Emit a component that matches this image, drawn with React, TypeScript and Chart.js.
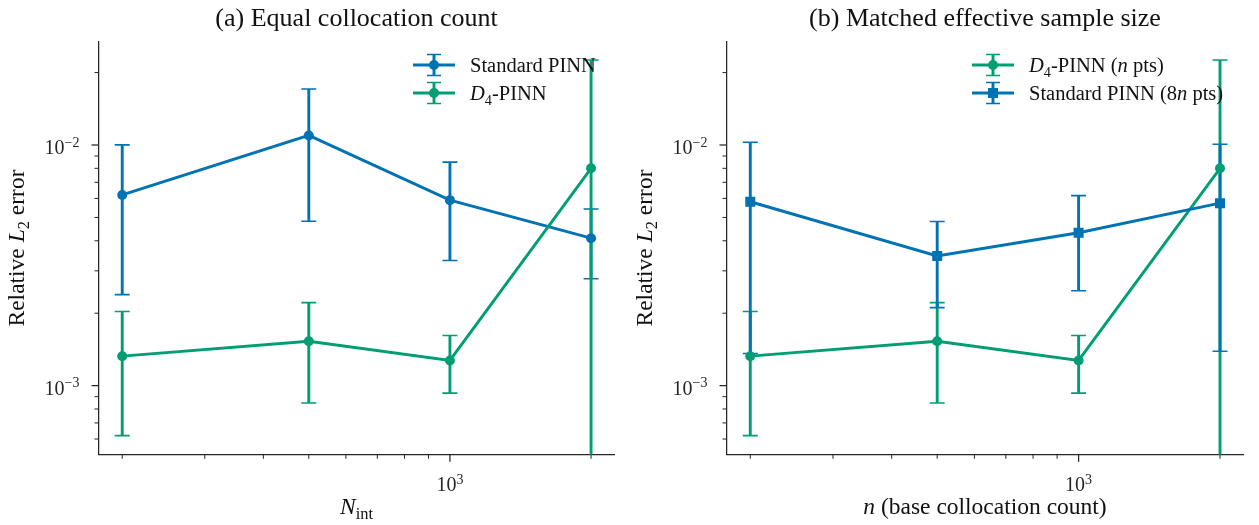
import React, { useEffect, useRef } from 'react';
import { Chart, registerables } from 'chart.js';

Chart.register(...registerables);

// ---------- data ----------
const nValues = [200, 500, 1000, 2000];

const standardMean = [0.0062, 0.01096, 0.0059, 0.0041];
const standardStd = [0.00381, 0.00614, 0.00259, 0.00132];

const d4Mean = [0.001326, 0.00153, 0.001273, 0.008];
const d4Std = [0.000706, 0.000683, 0.000342, 0.01455];

const standard8nMean = [0.00581, 0.00346, 0.00432, 0.00573];
const standard8nStd = [0.00445, 0.00135, 0.00184, 0.00434];

const xMajorTicks = [1000];
const xMinorTicks = [200, 300, 400, 500, 600, 700, 800, 900, 2000];
const yMajorTicks = [0.001, 0.01];
const yMinorTicks = [
  0.0006, 0.0007, 0.0008, 0.0009, 0.002, 0.003, 0.004, 0.005, 0.006, 0.007,
  0.008, 0.009, 0.02,
];
const xLimits = [178, 2244];
const yLimits = [0.000516, 0.027];

const BLUE = '#0173b2';
const GREEN = '#029e73';
const INK = '#262626';
const FONT = '"Liberation Serif", "Times New Roman", serif';

type Seg = { text: string; italic?: boolean; sub?: boolean; sup?: boolean };

const titleA: Seg[] = [{ text: '(a) Equal collocation count' }];
const titleB: Seg[] = [{ text: '(b) Matched effective sample size' }];
const xLabelA: Seg[] = [{ text: 'N', italic: true }, { text: 'int', sub: true }];
const xLabelB: Seg[] = [{ text: 'n', italic: true }, { text: ' (base collocation count)' }];
const yLabel: Seg[] = [
  { text: 'Relative ' },
  { text: 'L', italic: true },
  { text: '2', sub: true },
  { text: ' error' },
];
const legStandard: Seg[] = [{ text: 'Standard PINN' }];
const legD4: Seg[] = [{ text: 'D', italic: true }, { text: '4', sub: true }, { text: '-PINN' }];
const legD4n: Seg[] = [
  { text: 'D', italic: true },
  { text: '4', sub: true },
  { text: '-PINN (' },
  { text: 'n', italic: true },
  { text: ' pts)' },
];
const legStd8n: Seg[] = [
  { text: 'Standard PINN (8' },
  { text: 'n', italic: true },
  { text: ' pts)' },
];

// ---------- helpers ----------
function segFont(s: Seg, size: number) {
  const sz = s.sub || s.sup ? size * 0.7 : size;
  return `${s.italic ? 'italic ' : ''}${sz}px ${FONT}`;
}

function drawRich(
  ctx: CanvasRenderingContext2D,
  segs: Seg[],
  x: number,
  y: number,
  size: number,
  align: 'left' | 'center' | 'right'
) {
  ctx.textAlign = 'left';
  ctx.textBaseline = 'alphabetic';
  const widths = segs.map((s) => {
    ctx.font = segFont(s, size);
    return ctx.measureText(s.text).width;
  });
  const total = widths.reduce((a, b) => a + b, 0);
  let cx = align === 'left' ? x : align === 'center' ? x - total / 2 : x - total;
  segs.forEach((s, i) => {
    ctx.font = segFont(s, size);
    const dy = s.sub ? size * 0.22 : s.sup ? -size * 0.36 : 0;
    ctx.fillText(s.text, cx, y + dy);
    cx += widths[i];
  });
}

function expLabel(v: number): Seg[] {
  const e = Math.round(Math.log10(v));
  return [{ text: '10' }, { text: String(e).replace('-', '\u2212'), sup: true }];
}

type Series = {
  legend: Seg[];
  mean: number[];
  std: number[];
  color: string;
  marker: 'circle' | 'rect';
};

type PanelCfg = {
  left: number;
  width: number;
  chartLeft: number;
  chartRight: number;
  title: Seg[];
  xLabel: Seg[];
  series: Series[];
  legendX: number;
};

const CHART_TOP = 41.2;
const CHART_BOTTOM = 454.8;
const HEIGHT = 525;
const LINE_W = 2.9;

const panels: PanelCfg[] = [
  {
    left: 0,
    width: 630,
    chartLeft: 98.5,
    chartRight: 614.5,
    title: titleA,
    xLabel: xLabelA,
    legendX: 413,
    series: [
      { legend: legStandard, mean: standardMean, std: standardStd, color: BLUE, marker: 'circle' },
      { legend: legD4, mean: d4Mean, std: d4Std, color: GREEN, marker: 'circle' },
    ],
  },
  {
    left: 620,
    width: 639,
    chartLeft: 106.5,
    chartRight: 623.5,
    title: titleB,
    xLabel: xLabelB,
    legendX: 352,
    series: [
      { legend: legD4n, mean: d4Mean, std: d4Std, color: GREEN, marker: 'circle' },
      { legend: legStd8n, mean: standard8nMean, std: standard8nStd, color: BLUE, marker: 'rect' },
    ],
  },
];

function drawMarker(ctx: CanvasRenderingContext2D, marker: string, x: number, y: number, color: string) {
  ctx.fillStyle = color;
  if (marker === 'rect') {
    ctx.fillRect(x - 5, y - 5, 10, 10);
  } else {
    ctx.beginPath();
    ctx.arc(x, y, 5, 0, Math.PI * 2);
    ctx.fill();
  }
}

function Panel({ cfg }: { cfg: PanelCfg }) {
  const ref = useRef<HTMLCanvasElement>(null);

  useEffect(() => {
    const canvas = ref.current;
    if (!canvas) return;

    const errorBars = {
      id: 'errorBars',
      beforeDatasetsDraw(chart: any) {
        const ctx = chart.ctx as CanvasRenderingContext2D;
        const area = chart.chartArea;
        const xs = chart.scales.x;
        const ys = chart.scales.y;
        ctx.save();
        ctx.beginPath();
        ctx.rect(area.left, area.top, area.right - area.left, area.bottom - area.top);
        ctx.clip();
        cfg.series.forEach((s) => {
          nValues.forEach((n, i) => {
            const px = xs.getPixelForValue(n);
            const hi = s.mean[i] + s.std[i];
            const lo = s.mean[i] - s.std[i];
            const yHi = ys.getPixelForValue(hi);
            const yLo = lo > 0 ? ys.getPixelForValue(lo) : area.bottom + 5;
            ctx.strokeStyle = s.color;
            ctx.lineCap = 'butt';
            ctx.lineWidth = LINE_W;
            ctx.beginPath();
            ctx.moveTo(px, yHi);
            ctx.lineTo(px, yLo);
            ctx.stroke();
            ctx.lineWidth = 1.6;
            ctx.beginPath();
            ctx.moveTo(px - 7.5, yHi);
            ctx.lineTo(px + 7.5, yHi);
            if (lo > 0) {
              ctx.moveTo(px - 7.5, yLo);
              ctx.lineTo(px + 7.5, yLo);
            }
            ctx.stroke();
          });
        });
        ctx.restore();
      },
    };

    const decorations = {
      id: 'decorations',
      afterDraw(chart: any) {
        const ctx = chart.ctx as CanvasRenderingContext2D;
        const area = chart.chartArea;
        const xs = chart.scales.x;
        const ys = chart.scales.y;
        ctx.save();
        ctx.strokeStyle = INK;
        ctx.fillStyle = INK;

        // x ticks
        const xTick = (v: number, len: number, w: number) => {
          const px = xs.getPixelForValue(v);
          ctx.lineWidth = w;
          ctx.beginPath();
          ctx.moveTo(px, area.bottom);
          ctx.lineTo(px, area.bottom + len);
          ctx.stroke();
          return px;
        };
        xMinorTicks.forEach((v) => xTick(v, 4, 1));
        xMajorTicks.forEach((v) => {
          const px = xTick(v, 7, 1.25);
          drawRich(ctx, expLabel(v), px, 491, 20, 'center');
        });

        // y ticks
        const yTick = (v: number, len: number, w: number) => {
          const py = ys.getPixelForValue(v);
          ctx.lineWidth = w;
          ctx.beginPath();
          ctx.moveTo(area.left, py);
          ctx.lineTo(area.left - len, py);
          ctx.stroke();
          return py;
        };
        yMinorTicks.forEach((v) => yTick(v, 4, 1));
        yMajorTicks.forEach((v) => {
          const py = yTick(v, 7, 1.25);
          drawRich(ctx, expLabel(v), area.left - 19, py + 9, 20, 'right');
        });

        // title
        const cx = (area.left + area.right) / 2;
        ctx.fillStyle = '#111';
        drawRich(ctx, cfg.title, cx, 26, 26, 'center');

        // x label
        drawRich(ctx, cfg.xLabel, cx, 514, 23.5, 'center');

        // y label
        ctx.save();
        ctx.translate(area.left - 74.5, (area.top + area.bottom) / 2);
        ctx.rotate(-Math.PI / 2);
        drawRich(ctx, yLabel, 0, 0, 23.5, 'center');
        ctx.restore();

        // legend
        cfg.series.forEach((s, k) => {
          const y = 65 + 28 * k;
          const x0 = cfg.legendX;
          const x1 = x0 + 42;
          const xm = (x0 + x1) / 2;
          ctx.strokeStyle = s.color;
          ctx.lineWidth = LINE_W;
          ctx.beginPath();
          ctx.moveTo(x0, y);
          ctx.lineTo(x1, y);
          ctx.moveTo(xm, y - 10.5);
          ctx.lineTo(xm, y + 10.5);
          ctx.stroke();
          ctx.lineWidth = 1.6;
          ctx.beginPath();
          ctx.moveTo(xm - 7, y - 10.5);
          ctx.lineTo(xm + 7, y - 10.5);
          ctx.moveTo(xm - 7, y + 10.5);
          ctx.lineTo(xm + 7, y + 10.5);
          ctx.stroke();
          drawMarker(ctx, s.marker, xm, y, s.color);
          ctx.fillStyle = '#111';
          drawRich(ctx, s.legend, x1 + 15, y + 7, 20.5, 'left');
        });

        ctx.restore();
      },
    };

    const n = cfg.series.length;
    const chart = new Chart(canvas, {
      type: 'line',
      data: {
        datasets: cfg.series.map((s, k) => ({
          label: s.legend.map((g) => g.text).join(''),
          data: nValues.map((x, i) => ({ x, y: s.mean[i] })),
          borderColor: s.color,
          backgroundColor: s.color,
          borderWidth: LINE_W,
          pointStyle: s.marker,
          pointRadius: s.marker === 'rect' ? 7.1 : 5,
          pointBorderWidth: 0,
          pointBackgroundColor: s.color,
          pointHoverRadius: 0,
          tension: 0,
          fill: false,
          order: n - k,
        })),
      },
      options: {
        responsive: false,
        animation: false,
        events: [],
        layout: {
          padding: { left: 0, right: cfg.width - cfg.chartRight, top: CHART_TOP, bottom: 0 },
        },
        plugins: {
          legend: { display: false },
          tooltip: { enabled: false },
          title: { display: false },
        },
        scales: {
          x: {
            type: 'logarithmic',
            min: xLimits[0],
            max: xLimits[1],
            grid: { display: false, drawTicks: false },
            border: { display: true, color: INK, width: 1.25 },
            ticks: { display: false },
            afterFit: (s: any) => {
              s.height = HEIGHT - CHART_BOTTOM;
            },
          },
          y: {
            type: 'logarithmic',
            min: yLimits[0],
            max: yLimits[1],
            grid: { display: false, drawTicks: false },
            border: { display: true, color: INK, width: 1.25 },
            ticks: { display: false },
            afterFit: (s: any) => {
              s.width = cfg.chartLeft;
            },
          },
        },
      } as any,
      plugins: [errorBars, decorations],
    });

    return () => chart.destroy();
  }, [cfg]);

  return (
    <canvas
      ref={ref}
      width={cfg.width}
      height={HEIGHT}
      style={{ position: 'absolute', left: cfg.left, top: 0, width: cfg.width, height: HEIGHT }}
    />
  );
}

export default function App() {
  return (
    <div
      style={{
        position: 'absolute',
        left: 0,
        top: 0,
        width: 1259,
        height: HEIGHT,
        background: '#ffffff',
        overflow: 'hidden',
      }}
    >
      {panels.map((p, i) => (
        <Panel key={i} cfg={p} />
      ))}
    </div>
  );
}
